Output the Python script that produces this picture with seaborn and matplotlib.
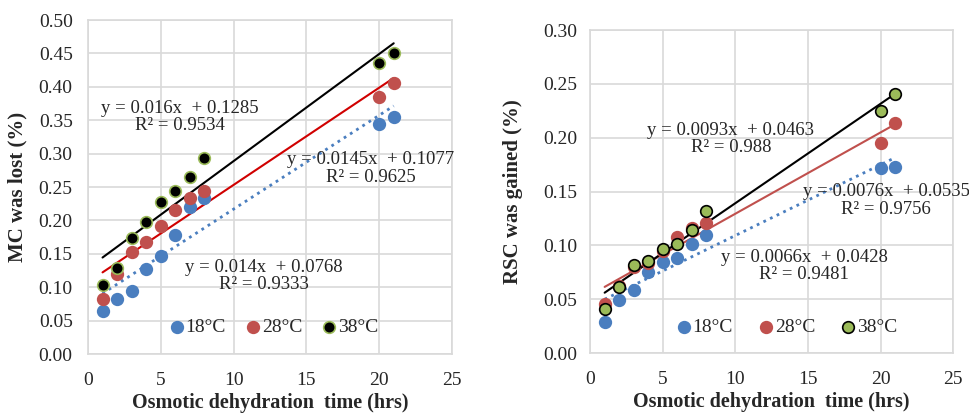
"""Moisture lost and solids gained during osmotic dehydration at three temperatures."""

import matplotlib.pyplot as plt
import numpy as np
import pandas as pd
import seaborn as sns

sns.set_style("whitegrid")
plt.rcParams["font.family"] = ["Liberation Serif", "DejaVu Serif"]

hours = [1, 2, 3, 4, 5, 6, 7, 8, 20, 21]
temps = ["18°C", "28°C", "38°C"]

mc_18 = [0.065, 0.082, 0.095, 0.127, 0.147, 0.178, 0.220, 0.233, 0.344, 0.355]
mc_28 = [0.082, 0.120, 0.153, 0.167, 0.192, 0.215, 0.234, 0.244, 0.385, 0.405]
mc_38 = [0.104, 0.129, 0.173, 0.197, 0.227, 0.244, 0.265, 0.294, 0.435, 0.451]

rsc_18 = [0.029, 0.049, 0.059, 0.075, 0.085, 0.088, 0.101, 0.110, 0.172, 0.173]
rsc_28 = [0.046, 0.062, 0.080, 0.084, 0.095, 0.108, 0.116, 0.121, 0.195, 0.214]
rsc_38 = [0.041, 0.061, 0.082, 0.086, 0.097, 0.101, 0.114, 0.132, 0.225, 0.241]

mc_eqs = [
    ("y = 0.014x  + 0.0768\nR² = 0.9333", 12.1, 0.117),
    ("y = 0.0145x  + 0.1077\nR² = 0.9625", 19.4, 0.278),
    ("y = 0.016x  + 0.1285\nR² = 0.9534", 6.3, 0.355),
]
rsc_eqs = [
    ("y = 0.0066x  + 0.0428\nR² = 0.9481", 14.75, 0.081),
    ("y = 0.0076x  + 0.0535\nR² = 0.9756", 20.4, 0.142),
    ("y = 0.0093x  + 0.0463\nR² = 0.988", 9.7, 0.199),
]

BLUE = "#4a7ebf"
RED = "#c0504d"
GREEN = "#9bbb59"
GRID = "#d9d9d9"
INK = "#262626"


def long_frame(series):
    return pd.DataFrame(
        [(t, h, v) for t, vals in zip(temps, series) for h, v in zip(hours, vals)],
        columns=["temp", "hours", "value"],
    )


def draw(ax, series, fill, edge, trend, eqs, ymax, ylabel, ypad, legx, colsp):
    df = long_frame(series)
    for t, fc, ec, (color, ls) in zip(temps, fill, edge, trend):
        sub = df[df.temp == t]
        sns.regplot(data=sub, x="hours", y="value", ax=ax, scatter=False, ci=None,
                    line_kws=dict(color=color, ls=ls, lw=2 if ls == ":" else 1.5))
        sns.scatterplot(data=sub, x="hours", y="value", ax=ax, color=fc, edgecolor=ec,
                        linewidth=1.2, s=70, label=t, zorder=3)

    for text, x, y in eqs:
        ax.text(x, y, text, ha="center", va="center", fontsize=13.5, color=INK,
                linespacing=1.05, zorder=4)

    ax.set_xlim(0, 25)
    ax.set_ylim(0, ymax)
    ax.set_xticks(np.arange(0, 26, 5))
    ax.set_yticks(np.arange(0, ymax + 0.001, 0.05))
    ax.yaxis.set_major_formatter(plt.FormatStrFormatter("%.2f"))
    ax.tick_params(labelsize=14, labelcolor=INK, length=0)
    ax.tick_params(axis="x", pad=13)
    ax.tick_params(axis="y", pad=ypad)
    ax.grid(color=GRID, lw=1.2)
    for sp in ax.spines.values():
        sp.set_color(GRID)
        sp.set_linewidth(1.2)
    ax.set_xlabel("Osmotic dehydration  time (hrs)", fontsize=14.5, fontweight="bold",
                  color=INK, labelpad=3)
    ax.set_ylabel(ylabel, fontsize=15, fontweight="bold", color=INK)
    leg = ax.legend(loc="center", bbox_to_anchor=(legx, 0.08), ncol=3, frameon=False,
                    fontsize=14, handlelength=0.6, handletextpad=0.15, columnspacing=colsp)
    for txt in leg.get_texts():
        txt.set_color(INK)


def main():
    fig = plt.figure(figsize=(9.69, 4.17), dpi=100)
    lax = fig.add_axes([0.0908, 0.151, 0.3756, 0.801])
    rax = fig.add_axes([0.609, 0.153, 0.3746, 0.775])

    draw(lax, [mc_18, mc_28, mc_38], [BLUE, RED, "black"], [BLUE, RED, GREEN],
         [(BLUE, ":"), ("#d00000", "-"), ("black", "-")], mc_eqs, 0.5,
         "MC was lost (%)", 11, 0.513, 1.1)
    draw(rax, [rsc_18, rsc_28, rsc_38], [BLUE, RED, GREEN], [BLUE, RED, "black"],
         [(BLUE, ":"), (RED, "-"), ("black", "-")], rsc_eqs, 0.3,
         "RSC was gained (%)", 9.5, 0.544, 1.4)

    lax.yaxis.set_label_coords(-0.165, 0.5)
    rax.yaxis.set_label_coords(-0.185, 0.5)

    fig.savefig("out.png", dpi=100)


if __name__ == "__main__":
    main()
